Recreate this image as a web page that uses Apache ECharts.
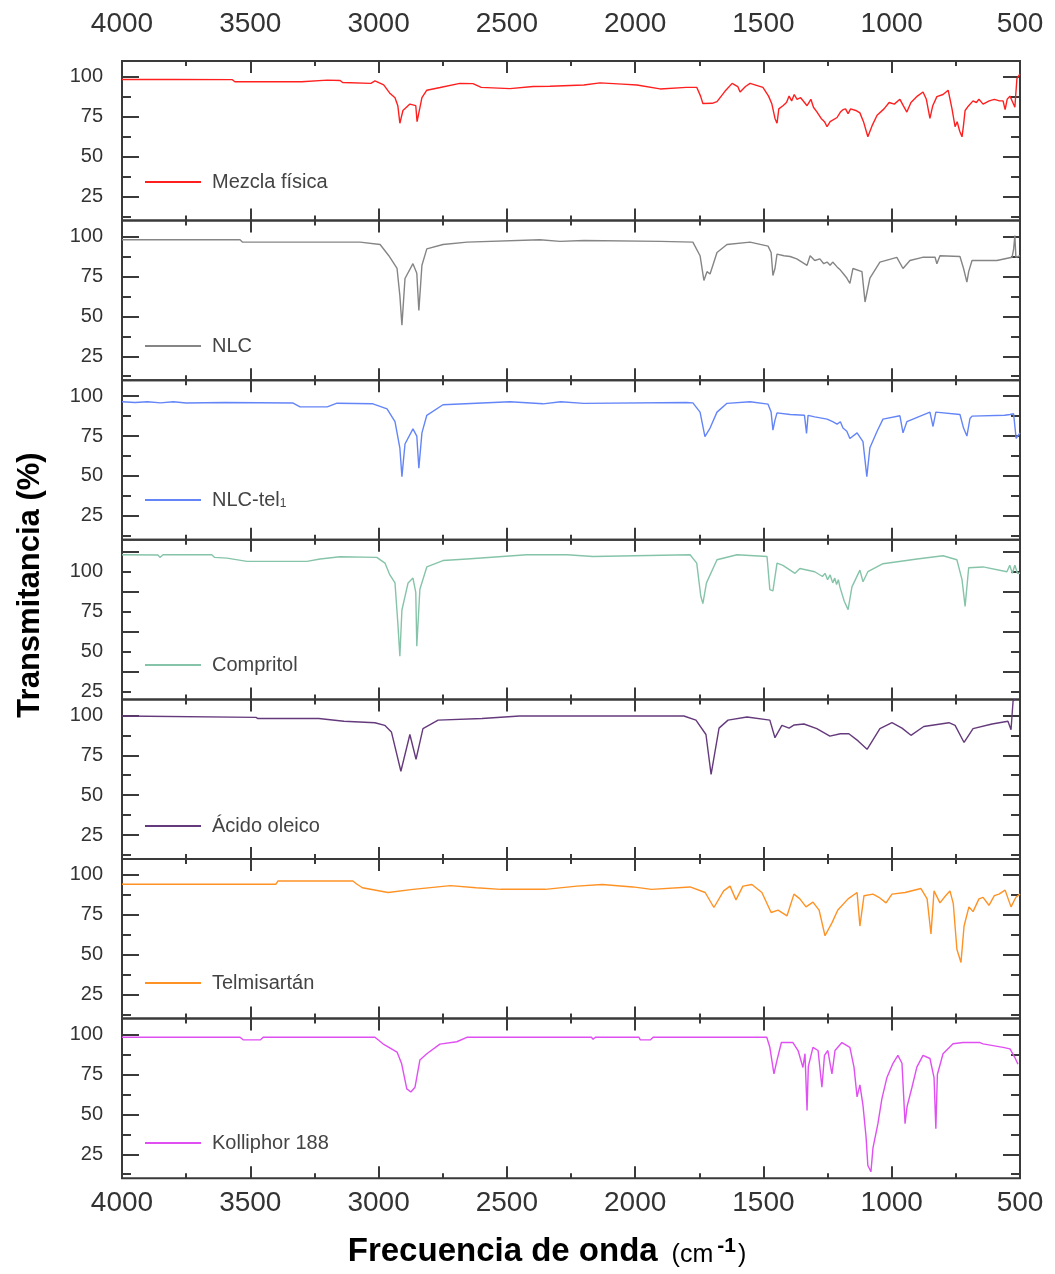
<!DOCTYPE html>
<html>
<head>
<meta charset="utf-8">
<title>Espectros FTIR</title>
<script src="https://cdn.jsdelivr.net/npm/echarts@6/dist/echarts.min.js"></script>
<style>
  html, body { margin: 0; padding: 0; background: #fff; }
  #chart { width: 1055px; height: 1274px; }
</style>
</head>
<body>
<div id="chart"></div>
<script>
  // ---- datos ----
  var names = ['Mezcla física', 'NLC', 'NLC-tel1', 'Compritol', 'Ácido oleico', 'Telmisartán', 'Kolliphor 188'];
  var yTicks = [25, 50, 75, 100];
  var yMinorTicks = [12.5, 37.5, 62.5, 87.5, 112.5];
  var yRanges = [[10, 110], [10, 110], [10, 110], [20, 120], [10, 110], [10, 110], [10, 110]];

  var mezclaWn = [4000, 3800, 3570, 3560, 3300, 3200, 3150, 3140, 3030, 3014, 2980, 2955, 2936, 2925, 2917, 2910, 2905, 2878, 2855, 2850, 2845, 2831, 2812, 2760, 2683, 2632, 2600, 2488, 2398, 2332, 2200, 2137, 2050, 1993, 1903, 1800, 1760, 1745, 1736, 1700, 1681, 1650, 1622, 1600, 1591, 1570, 1552, 1502, 1480, 1467, 1455, 1447, 1440, 1424, 1410, 1400, 1390, 1380, 1369, 1355, 1340, 1330, 1315, 1305, 1291, 1275, 1262, 1252, 1240, 1213, 1200, 1190, 1180, 1170, 1160, 1140, 1124, 1110, 1093, 1075, 1057, 1030, 1010, 990, 968, 955, 941, 925, 900, 878, 865, 851, 840, 824, 800, 780, 773, 765, 753, 745, 735, 726, 720, 714, 700, 683, 670, 660, 644, 620, 600, 580, 566, 558, 550, 539, 528, 520, 512, 500];
  var mezclaT = [98.4, 98.4, 98.3, 97, 97, 98, 97.8, 96.5, 96, 97.5, 95, 89.6, 87, 82, 71, 72, 79, 83, 82, 72, 73, 87, 91.7, 93.4, 96, 95.8, 93.5, 92.7, 94, 94.2, 95, 96.3, 95.5, 95, 92.5, 93.5, 93.5, 88, 83.4, 83.5, 84.5, 91, 96, 94, 90.6, 94, 96, 93.5, 88, 83, 74, 71, 80, 82, 84, 88, 85, 89, 86, 87, 84, 82, 86, 81, 78, 74, 72, 68.8, 72, 74.6, 78, 79.5, 80, 77, 80, 79, 77.5, 72, 62.5, 70, 76, 80, 84, 83, 86, 82, 78, 84, 88, 90.6, 86, 74, 82, 87.7, 89, 91.7, 91.7, 80, 68.8, 72, 66, 62.5, 70, 79, 82, 85, 84, 86, 83, 85, 86, 85, 85, 79.5, 86, 88, 84, 81, 99, 102];

  var nlcWn = [4000, 3540, 3530, 3072, 2994, 2960, 2928, 2917, 2909, 2897, 2866, 2851, 2843, 2831, 2812, 2749, 2655, 2371, 2293, 2200, 1900, 1775, 1747, 1732, 1720, 1708, 1681, 1642, 1552, 1482, 1470, 1463, 1455, 1447, 1420, 1396, 1370, 1350, 1330, 1318, 1300, 1280, 1265, 1252, 1240, 1230, 1213, 1200, 1190, 1175, 1163, 1151, 1116, 1104, 1085, 1046, 980, 956, 929, 880, 831, 824, 812, 734, 720, 707, 700, 687, 590, 531, 525, 520, 516, 500];
  var nlcT = [98, 98, 96.5, 96.5, 95, 88, 80, 63, 44.4, 73.7, 83, 77, 53.7, 82, 92.3, 95, 96.5, 98, 97, 97.5, 97, 96.5, 88, 72.5, 78, 76.5, 90, 95, 96.5, 94, 90, 75.6, 80, 89, 88, 87.5, 86, 84, 82, 88, 85, 86, 83, 84, 82, 84, 81, 79, 77, 74, 70.6, 80, 78, 59, 74, 84, 87, 80, 85, 87, 87, 83, 88, 87.5, 80, 71.5, 78, 85, 85, 87, 92, 100.6, 87, 88];

  var telWn = [4000, 3950, 3900, 3850, 3800, 3750, 3600, 3333, 3306, 3200, 3162, 3022, 2967, 2936, 2917, 2909, 2897, 2866, 2851, 2843, 2831, 2812, 2749, 2488, 2359, 2290, 2200, 1800, 1775, 1747, 1728, 1708, 1681, 1642, 1552, 1482, 1470, 1463, 1455, 1447, 1396, 1340, 1332, 1326, 1300, 1252, 1230, 1213, 1200, 1190, 1175, 1163, 1135, 1112, 1097, 1085, 1057, 1034, 968, 956, 941, 851, 839, 828, 734, 720, 707, 695, 687, 560, 539, 525, 515, 500];
  var telT = [96.5, 96, 96.5, 95.8, 96.5, 95.7, 96, 95.7, 93.3, 93.3, 95.6, 95.2, 92, 84, 67.5, 49.6, 70, 79.5, 75, 54.8, 77, 88, 94.6, 96.5, 95.2, 96.5, 95.5, 96, 95.8, 90, 74.6, 80, 90, 95.5, 96.5, 95, 90, 78.7, 85, 89.5, 88.5, 88, 76.7, 88, 87, 85.6, 84, 82.5, 84, 80, 78, 73.5, 77, 71.5, 49.6, 67.7, 78, 85.6, 87.7, 77, 84, 90, 81, 90, 88.5, 80, 75, 86, 87.5, 88, 88.5, 89, 73.5, 77];

  var compWn = [4000, 3860, 3852, 3840, 3650, 3640, 3591, 3513, 3279, 3228, 3150, 3007, 2975, 2956, 2936, 2925, 2917, 2909, 2885, 2866, 2855, 2851, 2839, 2812, 2749, 2655, 2422, 2266, 2164, 1786, 1760, 1744, 1736, 1722, 1681, 1603, 1486, 1475, 1463, 1447, 1424, 1377, 1358, 1300, 1270, 1260, 1250, 1240, 1230, 1222, 1215, 1208, 1202, 1185, 1170, 1155, 1124, 1112, 1093, 1034, 901, 800, 746, 726, 714, 700, 644, 551, 540, 530, 520, 510, 500];
  var compT = [110.6, 110.5, 109, 110.6, 110.6, 109, 108.5, 106.5, 106.5, 108, 109.4, 109, 105.4, 98, 93, 68, 47, 76, 93, 96, 87, 53.3, 89, 103, 107, 108, 110.6, 110.6, 109.5, 110.6, 105.4, 84.6, 80, 93, 107.5, 110.6, 109.5, 88.75, 88, 105.4, 104, 99, 102, 100, 97, 99, 95, 98, 93, 96, 92, 95, 90.5, 81.5, 76.25, 90.5, 101, 93.75, 100, 105, 108, 110, 107.5, 95, 78.3, 102.5, 103, 100, 104, 99, 104, 99, 99];

  var oleWn = [4000, 3478, 3470, 3233, 3135, 3014, 2976, 2950, 2913, 2878, 2854, 2827, 2768, 2597, 2450, 1810, 1763, 1724, 1704, 1673, 1638, 1564, 1475, 1455, 1428, 1400, 1380, 1342, 1292, 1241, 1200, 1167, 1131, 1096, 1046, 999, 960, 925, 875, 777, 753, 718, 683, 609, 547, 535, 527, 520];
  var oleT = [99.6, 98.75, 98, 98, 96.3, 95.4, 93.75, 89.6, 65, 88, 72.5, 91.7, 97, 98, 99.6, 99.6, 97, 88, 63, 92, 97, 99, 97, 86, 93.75, 92, 94, 94.6, 91.7, 87, 88.5, 88.5, 84, 78.75, 91.7, 95.4, 92, 87.5, 93, 95.4, 93.75, 83, 91.7, 94.6, 96.3, 91, 109, 110];

  var telmiWn = [4000, 3400, 3392, 3100, 3084, 3063, 2963, 2866, 2720, 2620, 2523, 2351, 2227, 2129, 2009, 1936, 1786, 1727, 1693, 1655, 1630, 1607, 1580, 1545, 1506, 1470, 1443, 1408, 1381, 1358, 1334, 1307, 1283, 1260, 1233, 1210, 1170, 1135, 1124, 1108, 1073, 1050, 1022, 999, 948, 886, 862, 847, 835, 812, 790, 773, 760, 746, 730, 718, 699, 683, 660, 644, 621, 600, 582, 558, 535, 516, 500];
  var telmiT = [94.2, 94.2, 96.25, 96.25, 94.2, 92, 89, 91, 93.3, 92, 91, 91, 93, 94, 92.5, 91, 92.5, 89, 79.6, 90, 93, 84.4, 93, 94, 89, 76.5, 78, 74.4, 88, 85, 80, 83, 78, 61.9, 70, 78, 85, 89, 68, 87, 88, 86, 82.5, 88, 89, 91.5, 85, 63, 90, 82.5, 87, 90, 82, 53.5, 45.2, 68, 80, 77, 85, 86, 81, 87, 88, 90.5, 80, 86, 88];

  var kolWn = [4000, 3540, 3528, 3460, 3450, 3014, 2983, 2928, 2910, 2890, 2874, 2858, 2839, 2812, 2761, 2695, 2656, 2170, 2164, 2155, 1985, 1980, 1940, 1930, 1487, 1475, 1459, 1447, 1430, 1385, 1365, 1346, 1338, 1330, 1325, 1307, 1287, 1272, 1262, 1249, 1233, 1221, 1194, 1163, 1147, 1135, 1124, 1112, 1100, 1093, 1081, 1073, 1054, 1038, 1019, 995, 976, 960, 948, 940, 921, 902, 878, 851, 835, 828, 822, 800, 761, 722, 656, 644, 566, 539, 520, 508];
  var kolT = [98.3, 98.3, 96.7, 96.7, 98.3, 98.3, 94.2, 89, 81.7, 66, 64, 67, 84, 88, 94, 95.5, 98.3, 98.3, 97, 98.3, 98.3, 96.7, 96.7, 98.3, 98.3, 92, 75.4, 84, 95, 95, 90, 79.4, 88, 52.5, 80, 92, 90, 67, 87, 90, 75.4, 90, 95, 92, 79.6, 61, 68.5, 55.6, 35.8, 18, 14, 29, 44, 60, 72.9, 82, 87, 82, 44.2, 55, 67, 79.6, 87, 85, 73, 41, 75, 88, 94.2, 95, 95, 94.2, 92, 91, 85.6, 81.5];

  var wnList = [mezclaWn, nlcWn, telWn, compWn, oleWn, telmiWn, kolWn];
  var tList = [mezclaT, nlcT, telT, compT, oleT, telmiT, kolT];

  // ---- estilo ----
  var colors = ['#ff1f1f', '#858585', '#6485f7', '#86c4a9', '#653a7c', '#ff9224', '#e04ff2'];
  var legendY = [184, 348, 502, 667, 828, 985, 1145];
  var font = '"Liberation Sans", Arial, sans-serif';
  var axisColor = '#3a3a3a';
  var panelTop = 61, panelH = 159.6;

  var chart = echarts.init(document.getElementById('chart'));

  var grids = [], xAxes = [], yAxes = [], series = [], legends = [];

  for (var i = 0; i < 7; i++) {
    var yr = yRanges[i];
    var majors = yTicks.filter(function (v) { return v >= yr[0] && v <= yr[1]; });
    var minors = yMinorTicks.filter(function (v) { return v >= yr[0] && v <= yr[1]; });
    // Compritol tiene las marcas largas desplazadas
    var longT = i === 3 ? minors : majors;
    var shortT = i === 3 ? majors : minors;

    grids.push({
      left: 122, width: 898, top: panelTop + i * panelH, height: panelH,
      show: true, borderColor: axisColor, borderWidth: 2, backgroundColor: 'transparent'
    });

    ['top', 'bottom'].forEach(function (pos) {
      xAxes.push({
        type: 'value', gridIndex: i, position: pos, inverse: true,
        min: 500, max: 4000, interval: 500,
        axisLine: {show: false}, splitLine: {show: false},
        axisTick: {inside: true, length: 12, lineStyle: {color: axisColor, width: 2}},
        minorTick: {show: true, splitNumber: 2, length: 5, lineStyle: {color: axisColor, width: 2}},
        axisLabel: {
          show: (pos === 'top' && i === 0) || (pos === 'bottom' && i === 6),
          margin: pos === 'top' ? 23 : 11,
          fontSize: 28, color: '#333', fontFamily: font,
          formatter: function (v) { return String(v); }
        }
      });
    });

    ['left', 'right'].forEach(function (pos) {
      yAxes.push({
        type: 'value', gridIndex: i, position: pos, min: yr[0], max: yr[1],
        axisLine: {show: false}, splitLine: {show: false},
        axisTick: {inside: true, length: 17, customValues: longT, lineStyle: {color: axisColor, width: 2}},
        axisLabel: {show: false}
      });
      yAxes.push({
        type: 'value', gridIndex: i, position: pos, min: yr[0], max: yr[1],
        axisLine: {show: false}, splitLine: {show: false},
        axisTick: {inside: true, length: 9, customValues: shortT, lineStyle: {color: axisColor, width: 2}},
        axisLabel: {
          show: pos === 'left', customValues: majors, margin: 19,
          fontSize: 20, color: '#333', fontFamily: font
        }
      });
    });

    var wn = wnList[i], tt = tList[i];
    series.push({
      name: names[i], type: 'line',
      xAxisIndex: i * 2, yAxisIndex: i * 4,
      symbol: 'none', showSymbol: false,
      lineStyle: {color: colors[i], width: 1.4},
      itemStyle: {color: colors[i]},
      data: wn.map(function (w, k) { return [w, tt[k]]; })
    });

    legends.push({
      data: [{name: names[i], icon: 'rect'}], left: 145, top: legendY[i] - 12, padding: 0,
      itemWidth: 56, itemHeight: 2, selectedMode: false,
      itemStyle: {color: colors[i], borderWidth: 0},
      formatter: function (n) { return n === 'NLC-tel1' ? '{a|NLC-tel}{s|1}' : n; },
      textStyle: {
        fontSize: 20, color: '#444', fontFamily: font, padding: [0, 0, 0, 6],
        rich: {
          a: {fontSize: 20, color: '#444', fontFamily: font},
          s: {fontSize: 12, color: '#444', fontFamily: font, verticalAlign: 'bottom', padding: [8, 0, 0, 0]}
        }
      }
    });
  }

  chart.setOption({
    animation: false,
    backgroundColor: '#fff',
    grid: grids,
    xAxis: xAxes,
    yAxis: yAxes,
    legend: legends,
    series: series,
    graphic: [
      {
        type: 'text', x: 30, y: 585, rotation: Math.PI / 2,
        style: {
          text: 'Transmitancia (%)', fill: '#000',
          font: 'bold 31px ' + font, textAlign: 'center', textVerticalAlign: 'middle'
        }
      },
      {
        type: 'text', x: 547, y: 1252,
        style: {
          text: '{b|Frecuencia de onda}{n|  (cm}{s|-1}{n|)}',
          textAlign: 'center', textVerticalAlign: 'middle',
          rich: {
            b: {fontSize: 33, fontWeight: 'bold', fill: '#000', fontFamily: font, verticalAlign: 'bottom'},
            n: {fontSize: 25, fill: '#000', fontFamily: font, verticalAlign: 'bottom', padding: [0, 0, 1, 0]},
            s: {fontSize: 21, fontWeight: 'bold', fill: '#000', fontFamily: font, verticalAlign: 'top', padding: [0, 2, 0, 4]}
          }
        }
      }
    ]
  });
</script>
</body>
</html>
